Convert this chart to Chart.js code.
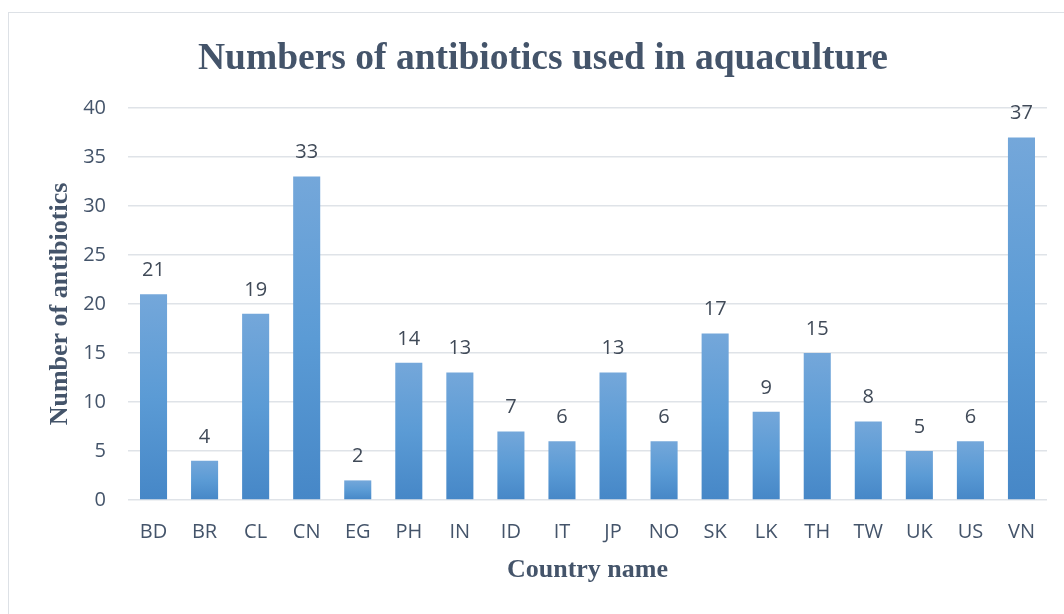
<!DOCTYPE html>
<html lang="en">
<head>
    <meta charset="UTF-8">
    <title>Antibiotics in aquaculture</title>
    <script src="https://cdn.jsdelivr.net/npm/chart.js"></script>
    <style>
        html, body { margin: 0; padding: 0; background: #fff; overflow: hidden; }
        .moldura {
            position: absolute; left: 8px; top: 12px;
            width: 1200px; height: 800px;
            border: 1.5px solid #dde1e6;
        }
        .caixa { position: absolute; left: 0; top: 0; width: 1064px; height: 614px; }
    </style>
</head>
<body>
    <div class="moldura"></div>
    <div class="caixa">
        <canvas id="graficoAntibioticos" width="1064" height="614"></canvas>
    </div>

<script>
    // dados
    const paises = ['BD', 'BR', 'CL', 'CN', 'EG', 'PH', 'IN', 'ID', 'IT', 'JP', 'NO', 'SK', 'LK', 'TH', 'TW', 'UK', 'US', 'VN'];
    const qtdAntibioticos = [21, 4, 19, 33, 2, 14, 13, 7, 6, 13, 6, 17, 9, 15, 8, 5, 6, 37];
    const ticksY = [0, 5, 10, 15, 20, 25, 30, 35, 40];

    const corTexto = '#44546A';
    const fonteTicks = "'Open Sans', sans-serif";
    const fonteSerif = "'Liberation Serif', 'Times New Roman', serif";

    // gradiente por barra (mais claro em cima)
    function corBarra(context) {
        const chart = context.chart;
        const escala = chart.scales.y;
        if (!escala || context.type !== 'data') return '#5B9BD5';
        const topo = escala.getPixelForValue(context.parsed.y);
        const base = escala.getPixelForValue(0);
        if (!isFinite(topo) || !isFinite(base) || topo === base) return '#5B9BD5';
        const grad = chart.ctx.createLinearGradient(0, topo, 0, base);
        grad.addColorStop(0, '#74a7da');
        grad.addColorStop(0.5, '#5b9bd5');
        grad.addColorStop(1, '#4687c7');
        return grad;
    }

    // rotulos de valor acima das barras
    const rotulosValor = {
        id: 'rotulosValor',
        afterDatasetsDraw(chart) {
            const ctx = chart.ctx;
            const meta = chart.getDatasetMeta(0);
            ctx.save();
            ctx.font = "20px " + fonteTicks;
            ctx.fillStyle = '#404a58';
            ctx.textAlign = 'center';
            ctx.textBaseline = 'middle';
            meta.data.forEach(function (barra, i) {
                ctx.fillText(String(qtdAntibioticos[i]), barra.x, barra.y - 24);
            });
            ctx.restore();
        }
    };

    const grafico = document.getElementById('graficoAntibioticos');
    new Chart(grafico, {
        type: 'bar',
        data: {
            labels: paises,
            datasets: [{
                label: 'Number of antibiotics',
                data: qtdAntibioticos,
                backgroundColor: corBarra,
                borderWidth: 0,
                barPercentage: 0.53,
                categoryPercentage: 1
            }]
        },
        options: {
            responsive: false,
            animation: false,
            devicePixelRatio: 1,
            layout: { padding: { left: 39, right: 17, top: 0, bottom: 0 } },
            plugins: {
                legend: { display: false },
                tooltip: { enabled: false },
                title: {
                    display: true,
                    text: 'Numbers of antibiotics used in aquaculture',
                    color: corTexto,
                    font: { family: fonteSerif, size: 37.5, weight: 'bold' },
                    padding: { top: 37, bottom: 26 }
                }
            },
            scales: {
                x: {
                    grid: { display: false, drawTicks: false },
                    border: { display: false },
                    ticks: {
                        color: corTexto,
                        font: { family: fonteTicks, size: 20 },
                        padding: 20,
                        maxRotation: 0
                    },
                    title: {
                        display: true,
                        text: 'Country name',
                        color: corTexto,
                        font: { family: fonteSerif, size: 26, weight: 'bold' },
                        padding: { top: 0, bottom: 28.4 }
                    },
                    afterFit(escala) { escala.height = 114; }
                },
                y: {
                    min: 0,
                    max: 40,
                    afterBuildTicks(escala) {
                        escala.ticks = ticksY.map(function (v) { return { value: v }; });
                    },
                    grid: { color: '#dfe3e8', lineWidth: 1.5, drawTicks: false },
                    border: { display: false },
                    ticks: {
                        color: corTexto,
                        font: { family: fonteTicks, size: 20 },
                        padding: 22
                    },
                    title: {
                        display: true,
                        text: 'Number of antibiotics',
                        color: corTexto,
                        font: { family: fonteSerif, size: 26, weight: 'bold' },
                        padding: { top: 5.4, bottom: 0 }
                    },
                    afterFit(escala) { escala.width = 89; }
                }
            }
        },
        plugins: [rotulosValor]
    });
</script>
</body>
</html>
